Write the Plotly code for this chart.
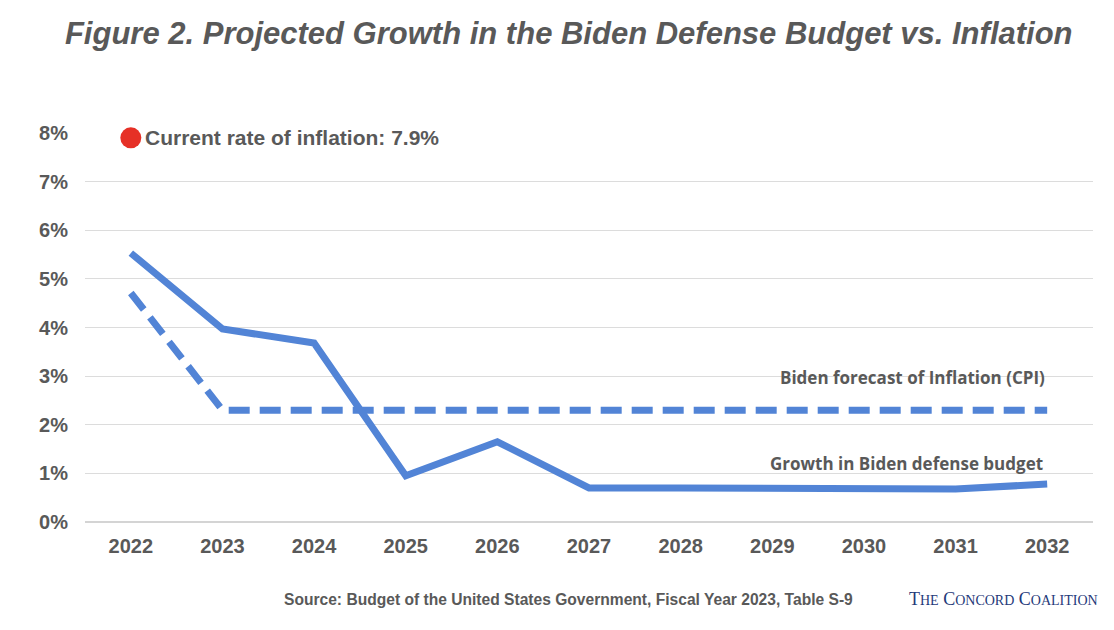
import plotly.graph_objects as go

# data
years = ["2022", "2023", "2024", "2025", "2026", "2027",
         "2028", "2029", "2030", "2031", "2032"]
defense_growth = [5.53, 3.97, 3.68, 0.95, 1.65, 0.70, 0.70, 0.69, 0.68, 0.68, 0.78]
cpi_forecast = [4.71, 2.30, 2.30, 2.30, 2.30, 2.30, 2.30, 2.30, 2.30, 2.30, 2.30]
current_inflation = 7.9
y_ticks = [0, 1, 2, 3, 4, 5, 6, 7, 8]

BLUE = "rgb(82,132,214)"
GRAY = "#595959"
first, last = 0, len(years) - 1  # category indices for the labels

fig = go.Figure()

fig.add_trace(go.Scatter(
    x=years, y=cpi_forecast, mode="lines",
    line=dict(color=BLUE, width=7, dash="21px,10px"),
    hoverinfo="skip", showlegend=False,
))
fig.add_trace(go.Scatter(
    x=years, y=defense_growth, mode="lines",
    line=dict(color=BLUE, width=7),
    hoverinfo="skip", showlegend=False,
))
fig.add_trace(go.Scatter(
    x=[years[0]], y=[current_inflation], mode="markers",
    marker=dict(color="rgb(230,48,38)", size=21),
    cliponaxis=False, hoverinfo="skip", showlegend=False,
))

fig.add_annotation(
    x=first, y=current_inflation, xref="x", yref="y",
    text="<b>Current rate of inflation: 7.9%</b>",
    showarrow=False, xanchor="left", yanchor="middle", xshift=12,
    font=dict(family="Liberation Sans, Arial", size=21, color=GRAY),
)
fig.add_annotation(
    x=last, y=cpi_forecast[-1], xref="x", yref="y",
    text="<b>Biden forecast of Inflation (CPI)</b>",
    showarrow=False, xanchor="right", yanchor="middle", yshift=33, xshift=0,
    font=dict(family="Open Sans, Noto Sans", size=17, color=GRAY),
)
fig.add_annotation(
    x=last, y=defense_growth[-1], xref="x", yref="y",
    text="<b>Growth in Biden defense budget</b>",
    showarrow=False, xanchor="right", yanchor="middle", yshift=21, xshift=-2,
    font=dict(family="Open Sans, Noto Sans", size=17, color=GRAY),
)

fig.add_annotation(
    x=0.48, y=-0.198, xref="paper", yref="paper",
    text="<b>Source: Budget of the United States Government, Fiscal Year 2023, Table S-9</b>",
    showarrow=False, yanchor="middle",
    font=dict(family="Liberation Sans, Arial", size=15.6, color=GRAY),
)
fig.add_annotation(
    x=1.007, y=-0.198, xref="paper", yref="paper", xanchor="right", yanchor="middle",
    text=("T<span style='font-size:14px'>HE</span> C<span style='font-size:14px'>ONCORD</span>"
          " C<span style='font-size:14px'>OALITION</span>"),
    showarrow=False,
    font=dict(family="Liberation Serif, Times New Roman", size=18, color="#1f3a7a"),
)

# page body has an 8px margin, so the figure is sized to fit the window
fig.update_layout(
    width=1106, height=622,
    paper_bgcolor="white", plot_bgcolor="white",
    margin=dict(l=77, r=21, t=125, b=108),
    title=dict(
        text="<b><i>Figure 2. Projected Growth in the Biden Defense Budget vs. Inflation</i></b>",
        x=0.507, xanchor="center", y=0.96, yanchor="middle",
        font=dict(family="Liberation Sans, Arial", size=31, color=GRAY),
    ),
    xaxis=dict(
        type="category", range=[-0.5, 10.5], showgrid=False, showline=False,
        ticks="", ticklabelstandoff=10,
        tickfont=dict(family="Liberation Sans, Arial", size=20, color=GRAY),
        tickprefix="<b>", ticksuffix="</b>",
    ),
    yaxis=dict(
        range=[0, 8], tickvals=y_ticks,
        ticktext=[f"<b>{v}%</b>" for v in y_ticks],
        showgrid=True, gridcolor="#dcdcdc", gridwidth=1.2,
        zeroline=True, zerolinecolor="#d4d4d4", zerolinewidth=1.5,
        ticks="", ticklabelstandoff=16,
        tickfont=dict(family="Liberation Sans, Arial", size=20, color=GRAY),
    ),
)

fig.write_html("out.html")
